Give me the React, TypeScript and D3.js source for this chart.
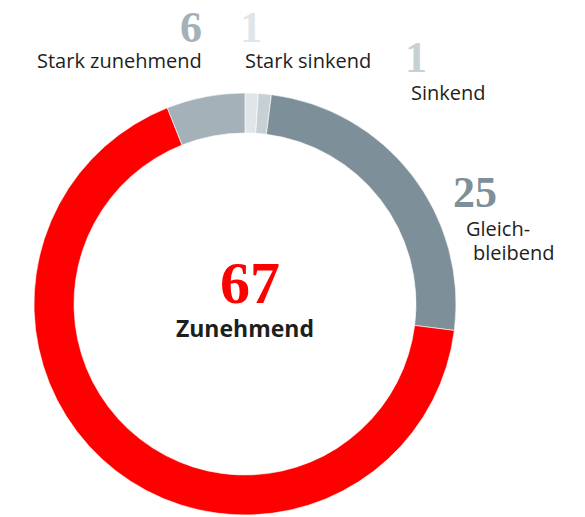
import React from 'react';
import * as d3 from 'd3';

const categories = ['Stark sinkend', 'Sinkend', 'Gleichbleibend', 'Zunehmend', 'Stark zunehmend'];
const values = [1, 1, 25, 67, 6];
const colors = ['#dfe5e8', '#c6d0d5', '#7d8f98', '#ff0000', '#a4b1b8'];

const W = 585, H = 517;
const cx = 245, cy = 304;
const outerR = 211, innerR = 171;

const sans = '"Open Sans", sans-serif';
const serif = '"Liberation Serif", serif';

export default function App() {
    const pie = d3.pie<number>().sort(null).startAngle(0).endAngle(2 * Math.PI);
    const arc = d3.arc<d3.PieArcDatum<number>>().innerRadius(innerR).outerRadius(outerR);
    const arcs = pie(values);

    // number + label position for each category
    const labels = [
        { num: { x: 251, y: 42 }, lines: [{ t: 'Stark sinkend', x: 245, y: 68 }] },
        { num: { x: 416, y: 72 }, lines: [{ t: 'Sinkend', x: 411, y: 100 }] },
        { num: { x: 475, y: 207 }, lines: [{ t: 'Gleich-', x: 466, y: 236 }, { t: 'bleibend', x: 473, y: 260 }] },
        null,
        { num: { x: 191, y: 42 }, lines: [{ t: 'Stark zunehmend', x: 37, y: 68 }] }
    ];

    return (
        <svg width={W} height={H} style={{ position: 'absolute', left: 0, top: 0 }}>
            <g transform={'translate(' + cx + ',' + cy + ')'}>
                {arcs.map((d, i) => (
                    <path key={categories[i]} d={arc(d) || ''} fill={colors[i]} stroke="#fff" strokeWidth={0.6} />
                ))}
            </g>
            {labels.map((l, i) => l && (
                <g key={categories[i]}>
                    <text x={l.num.x} y={l.num.y} textAnchor="middle" fontFamily={serif} fontWeight="bold"
                        fontSize={44} fill={colors[i]}>{values[i]}</text>
                    {l.lines.map(ln => (
                        <text key={ln.t} x={ln.x} y={ln.y} fontFamily={sans} fontSize={20} fill="#1e1e1e">{ln.t}</text>
                    ))}
                </g>
            ))}
            <text x={250} y={303} textAnchor="middle" fontFamily={serif} fontWeight="bold" fontSize={60}
                fill={colors[3]}>{values[3]}</text>
            <text x={245} y={337} textAnchor="middle" fontFamily={sans} fontWeight="bold" fontSize={23}
                fill="#1e1e1e">{categories[3]}</text>
        </svg>
    );
}
